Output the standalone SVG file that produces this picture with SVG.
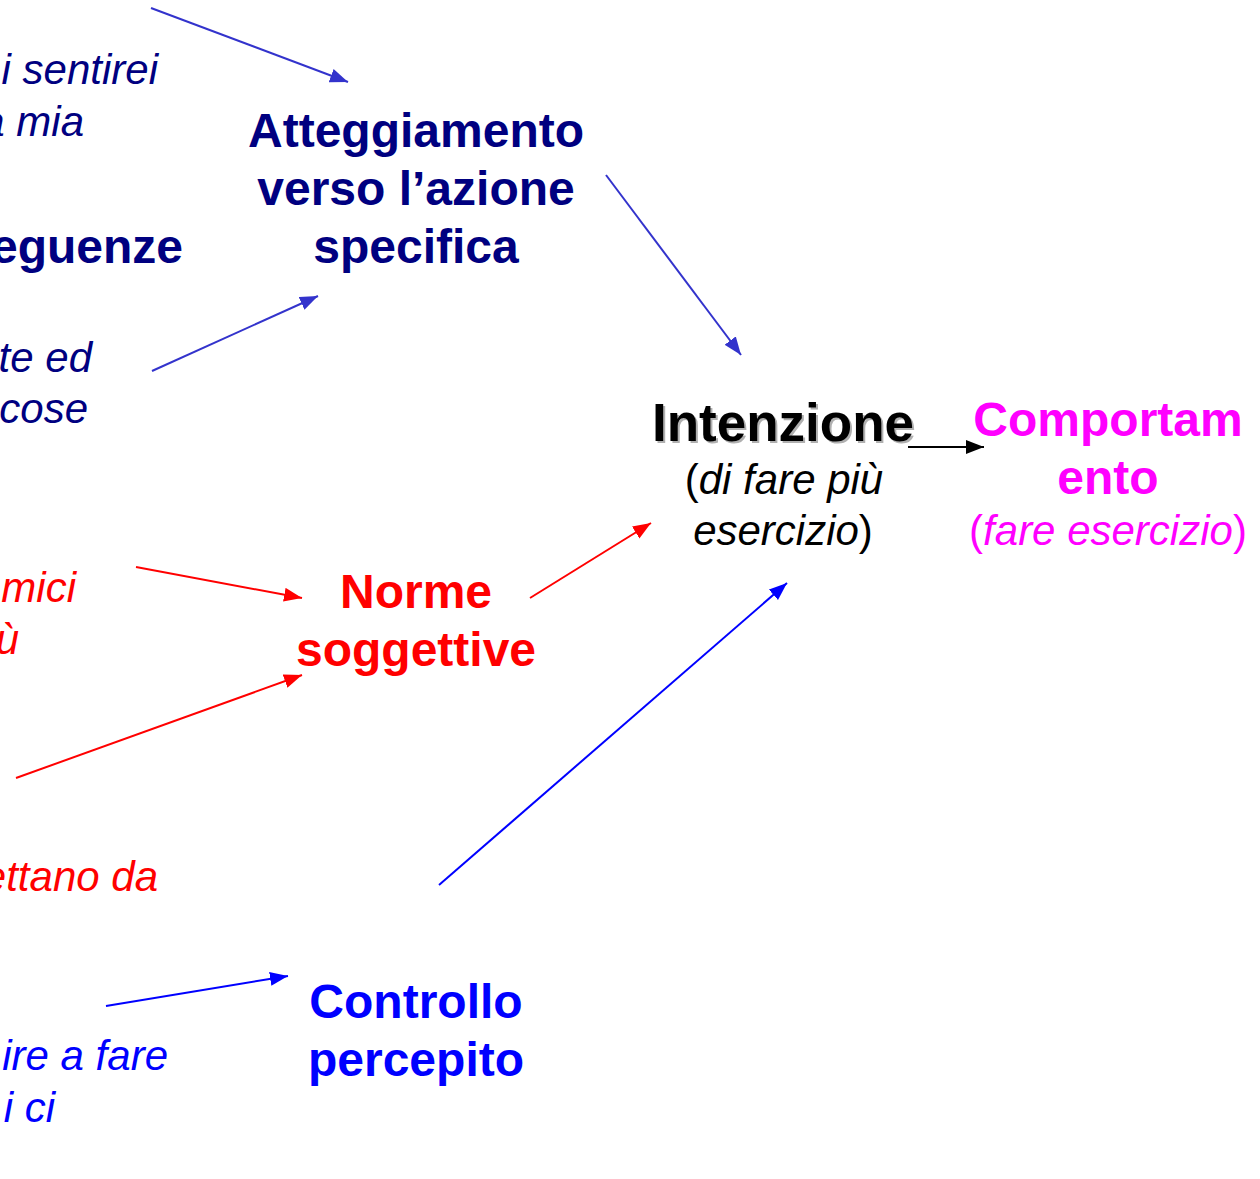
<svg xmlns="http://www.w3.org/2000/svg" width="1260" height="1179" viewBox="0 0 1260 1179">
<style>
.h{font-family:"Liberation Sans",Arial,sans-serif;font-weight:bold;font-size:48px;text-anchor:middle}
.i{font-family:"Liberation Sans",Arial,sans-serif;font-style:italic;font-size:42px}
.e{text-anchor:end}
.m{text-anchor:middle}
.up{font-style:normal}
.navy{fill:#000080}
.red{fill:#FF0000}
.blue{fill:#0000FF}
.mag{fill:#FF00FF}
</style>
<defs>
<marker id="ab" markerUnits="userSpaceOnUse" markerWidth="20" markerHeight="16" refX="18" refY="7" orient="auto"><path d="M0,0 L18,7 L0,14 Z" fill="#3333CC"/></marker>
<marker id="ar" markerUnits="userSpaceOnUse" markerWidth="20" markerHeight="16" refX="18" refY="7" orient="auto"><path d="M0,0 L18,7 L0,14 Z" fill="#FF0000"/></marker>
<marker id="abl" markerUnits="userSpaceOnUse" markerWidth="20" markerHeight="16" refX="18" refY="7" orient="auto"><path d="M0,0 L18,7 L0,14 Z" fill="#0000FF"/></marker>
<marker id="ak" markerUnits="userSpaceOnUse" markerWidth="20" markerHeight="16" refX="18" refY="7" orient="auto"><path d="M0,0 L18,7 L0,14 Z" fill="#000000"/></marker>
</defs>
<rect width="1260" height="1179" fill="#ffffff"/>

<g id="left-texts">
<text class="i e navy" x="158" y="84">i sentirei</text>
<text class="i e navy" x="84" y="136">a mia</text>
<text class="h e navy" x="183" y="263" style="text-anchor:end">eguenze</text>
<text class="i e navy" x="92" y="372">te ed</text>
<text class="i e navy" x="88" y="423">cose</text>
<text class="i e red" x="76" y="602">mici</text>
<text class="i e red" x="19" y="654">ù</text>
<text class="i e red" x="158" y="891">ettano da</text>
<text class="i e blue" x="168" y="1070">ire a fare</text>
<text class="i e blue" x="55" y="1122">i ci</text>
</g>

<g id="atteggiamento">
<text class="h navy" x="416" y="147">Atteggiamento</text>
<text class="h navy" x="416" y="205">verso l’azione</text>
<text class="h navy" x="416" y="263">specifica</text>
</g>

<g id="norme">
<text class="h red" x="416" y="608">Norme</text>
<text class="h red" x="416" y="666">soggettive</text>
</g>

<g id="controllo">
<text class="h blue" x="416" y="1018">Controllo</text>
<text class="h blue" x="416" y="1076">percepito</text>
</g>

<g id="intenzione">
<text class="h" x="785" y="443" style="font-size:53px" fill="#b0b0b0">Intenzione</text>
<text class="h" x="783" y="441" style="font-size:53px" fill="#000000">Intenzione</text>
<text class="i m" x="784" y="494" fill="#000"><tspan class="up">(</tspan>di fare più</text>
<text class="i m" x="783" y="545" fill="#000">esercizio<tspan class="up">)</tspan></text>
</g>

<g id="comportamento">
<text class="h mag" x="1108" y="436">Comportam</text>
<text class="h mag" x="1108" y="494">ento</text>
<text class="i m mag" x="1108" y="545"><tspan class="up">(</tspan>fare esercizio<tspan class="up">)</tspan></text>
</g>

<g id="connectors" fill="none">
<line x1="151" y1="8" x2="348" y2="82" stroke="#3333CC" stroke-width="2" marker-end="url(#ab)"/>
<line x1="606" y1="175" x2="741" y2="355" stroke="#3333CC" stroke-width="2" marker-end="url(#ab)"/>
<line x1="152" y1="371" x2="318" y2="296" stroke="#3333CC" stroke-width="2" marker-end="url(#ab)"/>
<line x1="136" y1="567" x2="302" y2="598" stroke="#FF0000" stroke-width="2" marker-end="url(#ar)"/>
<line x1="16" y1="778" x2="302" y2="675" stroke="#FF0000" stroke-width="2" marker-end="url(#ar)"/>
<line x1="530" y1="598" x2="651" y2="523" stroke="#FF0000" stroke-width="2" marker-end="url(#ar)"/>
<line x1="439" y1="885" x2="787" y2="583" stroke="#0000FF" stroke-width="2" marker-end="url(#abl)"/>
<line x1="106" y1="1006" x2="288" y2="976" stroke="#0000FF" stroke-width="2" marker-end="url(#abl)"/>
<line x1="908" y1="447" x2="984" y2="447" stroke="#000000" stroke-width="2" marker-end="url(#ak)"/>
</g>
</svg>
